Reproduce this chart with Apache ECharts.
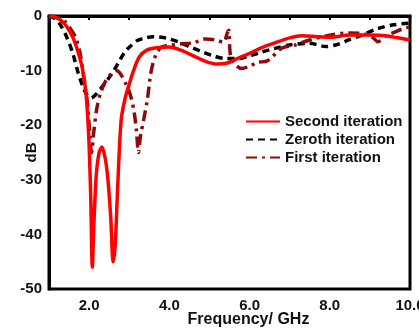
<!DOCTYPE html>
<html>
<head>
<meta charset="utf-8">
<script src="https://cdn.jsdelivr.net/npm/echarts@6/dist/echarts.min.js"></script>
<style>
  html, body { margin: 0; padding: 0; background: #fff; }
  #chart { width: 419px; height: 328px; }
</style>
</head>
<body>
<div id="chart"></div>
<script>
// Second iteration (red, solid)
var freqSecond = [1.0,1.15,1.3,1.45,1.6,1.72,1.83,1.92,1.99,2.04,2.08,2.12,2.18,2.25,2.32,2.4,2.47,2.54,2.6,2.65,2.72,2.8,2.9,3.0,3.1,3.25,3.45,3.7,4.0,4.3,4.6,4.9,5.2,5.45,5.75,6.05,6.3,6.6,7.0,7.3,7.7,8.0,8.5,9.0,9.4,9.7,10.0];
var dbSecond = [0,-0.2,-0.8,-2,-4,-6.5,-9.5,-14,-22,-33,-46,-38,-29,-25,-24,-26,-30,-37,-45,-42,-30,-19,-15,-12.5,-10.2,-7.5,-6.2,-5.8,-5.7,-6.3,-7.3,-8.3,-8.8,-8.6,-7.6,-6.7,-5.8,-5,-4,-3.6,-3.8,-3.9,-3.5,-3.5,-3.6,-4,-4.4];

// Zeroth iteration (black, dashed)
var freqZeroth = [1.0,1.15,1.3,1.45,1.6,1.73,1.85,1.95,2.05,2.15,2.3,2.45,2.6,2.75,2.9,3.05,3.2,3.4,3.6,3.8,4.0,4.25,4.5,4.8,5.1,5.4,5.7,6.0,6.3,6.6,7.0,7.5,7.9,8.2,8.5,8.8,9.2,9.6,10.0];
var dbZeroth = [0,-0.5,-1.8,-4,-7,-10.5,-13,-14.5,-15,-14.5,-13.2,-11.8,-10.2,-8.3,-6.5,-5.4,-4.5,-4,-3.8,-3.9,-4.2,-4.8,-5.6,-6.5,-7.3,-7.8,-7.8,-7.3,-6.6,-6,-5.3,-5,-5.6,-5.2,-4.3,-3.5,-2.3,-1.6,-1.3];

// First iteration (dark red, dash-dot)
var freqFirst = [1.0,1.2,1.4,1.55,1.68,1.78,1.88,1.96,2.02,2.06,2.12,2.2,2.3,2.42,2.55,2.68,2.8,2.92,3.03,3.12,3.18,3.23,3.28,3.36,3.45,3.55,3.66,3.8,4.0,4.3,4.6,4.9,5.15,5.35,5.45,5.48,5.52,5.6,5.8,6.0,6.2,6.45,6.8,7.1,7.5,8.0,8.5,8.8,9.05,9.2,9.4,9.6,9.8,10.0];
var dbFirst = [0,-0.3,-1,-2.5,-4.2,-7,-12,-16,-22,-25,-21,-16.6,-13.8,-11.8,-10.6,-10,-10.8,-12.5,-14.5,-17.5,-21,-25,-22,-19,-15.4,-10,-7.2,-5.7,-5.4,-5.1,-4.9,-4.2,-4.4,-4.8,-3,-2.6,-7,-8.5,-9.6,-9.2,-8.5,-8.2,-5.9,-5.4,-4.4,-3.5,-3.1,-3.2,-3.8,-4.7,-3.6,-3,-2.4,-2];

var seriesNames = ['Second iteration', 'Zeroth iteration', 'First iteration'];

function pairs(xs, ys) {
  return xs.map(function (x, i) { return [x, ys[i]]; });
}

var font = 'Liberation Sans, Arial, sans-serif';
var myChart = echarts.init(document.getElementById('chart'));

var option = {
  animation: false,
  grid: {
    show: true,
    left: 49,
    right: 9,
    top: 16,
    bottom: 39,
    containLabel: false,
    outerBoundsMode: 'none',
    borderColor: '#000',
    borderWidth: 3
  },
  legend: {
    data: seriesNames,
    orient: 'vertical',
    left: 245,
    top: 114,
    padding: 0,
    itemWidth: 34,
    itemHeight: 14,
    itemGap: 3,
    itemStyle: { opacity: 0 },
    textStyle: { fontFamily: font, fontWeight: 'bold', fontSize: 15, color: '#111' }
  },
  xAxis: {
    type: 'value',
    min: 1,
    max: 10,
    interval: 1,
    name: 'Frequency/ GHz',
    nameLocation: 'middle',
    nameGap: 23,
    nameMoveOverlap: false,
    nameTextStyle: { fontFamily: font, fontWeight: 'bold', fontSize: 16, color: '#111', padding: [0, 0, 0, 38] },
    axisLine: { lineStyle: { color: '#000', width: 3 } },
    axisTick: { show: true, length: 4, lineStyle: { color: '#000', width: 2 } },
    splitLine: { show: false },
    axisLabel: {
      fontFamily: font, fontWeight: 'bold', fontSize: 15, color: '#111', margin: 9,
      showMinLabel: false,
      formatter: function (v) { return v % 2 === 0 ? v.toFixed(1) : ''; }
    }
  },
  yAxis: {
    type: 'value',
    min: -50,
    max: 0,
    interval: 10,
    name: 'dB',
    nameLocation: 'middle',
    nameRotate: 90,
    nameGap: 10,
    nameMoveOverlap: false,
    nameTextStyle: { fontFamily: font, fontWeight: 'bold', fontSize: 15, color: '#111' },
    axisLine: { show: true, lineStyle: { color: '#000', width: 3 } },
    axisTick: { show: false },
    splitLine: { show: false },
    axisLabel: { fontFamily: font, fontWeight: 'bold', fontSize: 15, color: '#111', margin: 7 }
  },
  series: [
    {
      name: 'Zeroth iteration',
      type: 'line',
      data: pairs(freqZeroth, dbZeroth),
      symbol: 'none',
      smooth: 0.3,
      color: '#000',
      lineStyle: { color: '#000', width: 3.5, type: [7, 5] }
    },
    {
      name: 'First iteration',
      type: 'line',
      data: pairs(freqFirst, dbFirst),
      symbol: 'none',
      smooth: 0.3,
      color: '#8b0a0a',
      lineStyle: { color: '#8b0a0a', width: 3.5, type: [11, 5, 3, 5] }
    },
    {
      name: 'Second iteration',
      type: 'line',
      data: pairs(freqSecond, dbSecond),
      symbol: 'none',
      smooth: 0.3,
      color: '#ff0000',
      lineStyle: { color: '#ff0000', width: 3.5 }
    }
  ]
};

myChart.setOption(option);
window.addEventListener('resize', function () {
  myChart.resize();
});
</script>
</body>
</html>
